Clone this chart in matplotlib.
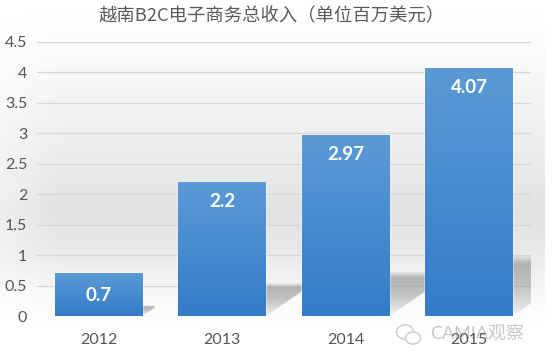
import numpy as np
import matplotlib
matplotlib.use('Agg')
import matplotlib.pyplot as plt
from matplotlib.patches import Polygon, Rectangle, Ellipse

years = ['2012', '2013', '2014', '2015']
values = [0.7, 2.2, 2.97, 4.07]
yticks = [0, 0.5, 1, 1.5, 2, 2.5, 3, 3.5, 4, 4.5]
ylabels = ['0', '0.5', '1', '1.5', '2', '2.5', '3', '3.5', '4', '4.5']
title = '越南B2C电子商务总收入（单位百万美元）'
watermark = 'CAMIA观察'

W, H = 554, 357
plt.rcParams['font.family'] = ['Lato', 'Noto Sans CJK SC', 'DejaVu Sans']

fig = plt.figure(figsize=(W / 100, H / 100), dpi=100)

# background, grey band in the middle fading to white
bg = fig.add_axes([0, 0, 1, 1], zorder=0)
yy = np.arange(H)
shade = np.interp(yy, [0, 40, 100, 160, 210, 250, 290, 320, 357],
                  [1, 0.985, 0.955, 0.92, 0.885, 0.91, 0.965, 0.995, 1])
xx = np.arange(W)
edge = np.interp(xx, [0, 60, 544, 545], [0.6, 1, 1, 0])
img = 1 - np.outer(1 - shade, edge)
bg.imshow(img, cmap='gray', vmin=0, vmax=1, aspect='auto', extent=[0, 1, 0, 1], origin='upper')
bg.axis('off')

# watermark sits under the chart, the 2015 label prints over it
wm = fig.add_axes([0, 0, 1, 1], zorder=0.5)
wm.set_xlim(0, W)
wm.set_ylim(H, 0)
wm.axis('off')
wm.patch.set_alpha(0)
wm.text(430, 333, watermark, ha='left', va='center', fontsize=13, color='#c8c8c8',
        family=['Lato', 'Noto Sans CJK SC', 'DejaVu Sans'])
wm.add_patch(Ellipse((405, 332), 17, 14, fill=False, ec='#d2d2d2', lw=1.2))
wm.add_patch(Ellipse((413, 338), 15, 12, fill=True, fc='white', ec='#d2d2d2', lw=1.2))

ax = fig.add_axes([37 / W, 1 - 316 / H, 494 / W, 274 / H], zorder=1)
ax.patch.set_alpha(0)
ax.set_xlim(-0.5, 3.5)
ax.set_ylim(0, 4.5)

for t in yticks:
    ax.axhline(t, color='#d6d6d8', lw=0.9, zorder=1)

bar_w = 0.71
grad = np.linspace(0, 1, 100).reshape(-1, 1)
cmap = matplotlib.colors.LinearSegmentedColormap.from_list('bar', ['#5b9ad6', '#337cc8'])

# shadow colour, soft top edge, dark below it and nearly gone at the base
sh_rgba = np.zeros((100, 1, 4))
sh_rgba[:, :, :3] = 0.62
sh_rgba[:, 0, 3] = np.interp(np.linspace(0, 1, 100), [0, 0.14, 0.5, 1], [0.05, 0.75, 0.6, 0.12])

for i, v in enumerate(values):
    right = i + bar_w / 2
    # shadow thrown up and to the right of each bar
    sw = min(0.14 * v, 3.5 - right)
    top = 0.245 * v
    sh = Polygon([(right, 0), (right + sw, min(1.45 * sw, 0.8 * top)), (right + sw, top), (right, top)],
                 closed=True, facecolor='none', edgecolor='none', transform=ax.transData)
    ax.add_patch(sh)
    si = ax.imshow(sh_rgba, aspect='auto', extent=[right, right + sw, 0, top], origin='upper', zorder=1.5)
    si.set_clip_path(sh)
    # pale halo round the bar
    ax.add_patch(Rectangle((i - bar_w / 2, 0), bar_w, v, facecolor='none', edgecolor='white', lw=1.4, alpha=0.3, zorder=1.8))
    rect = Rectangle((i - bar_w / 2, 0), bar_w, v, facecolor='none', edgecolor='none', zorder=3)
    ax.add_patch(rect)
    im = ax.imshow(grad, cmap=cmap, aspect='auto', extent=[i - bar_w / 2, right, 0, v], origin='upper', zorder=2)
    im.set_clip_path(rect)
    ax.text(i, v - 0.32 if v > 1 else v / 2 - 0.02, str(v), ha='center', va='center', color='white',
            fontsize=13.5, fontweight='bold', zorder=4)
ax.set_xlim(-0.5, 3.5)
ax.set_ylim(0, 4.5)

ax.set_xticks(range(4))
ax.set_xticklabels(years, fontsize=11.5, color='#555555')
ax.set_yticks(yticks)
ax.set_yticklabels(ylabels, fontsize=11.5, color='#555555')
ax.tick_params(length=0)
ax.tick_params(axis='x', pad=12.5)
ax.tick_params(axis='y', pad=7)
for s in ax.spines.values():
    s.set_visible(False)

fig.text(272 / W, 1 - 16 / H, title, ha='center', va='center', fontsize=13.2, color='#5a5a5a',
         family=['Noto Sans CJK SC', 'DejaVu Sans'])

fig.savefig('out.png', dpi=100)
